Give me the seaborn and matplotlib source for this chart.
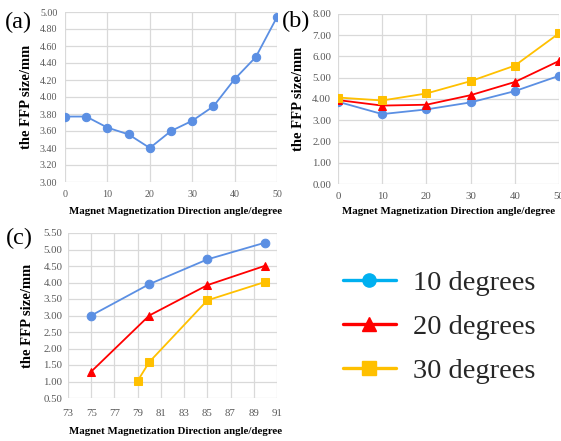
import numpy as np
import pandas as pd
import matplotlib
matplotlib.use("Agg")
import matplotlib.pyplot as plt
import seaborn as sns
from matplotlib.lines import Line2D

# ---- data ----
a_angle = [0, 5, 10, 15, 20, 25, 30, 35, 40, 45, 50]
a_size = [3.77, 3.77, 3.64, 3.56, 3.40, 3.60, 3.72, 3.89, 4.21, 4.47, 4.94]

b_angle = [0, 10, 20, 30, 40, 50]
b_10deg = [3.87, 3.29, 3.51, 3.84, 4.37, 5.09]
b_20deg = [3.95, 3.69, 3.73, 4.18, 4.80, 5.79]
b_30deg = [4.07, 3.93, 4.26, 4.84, 5.57, 7.09]

c_angle_10 = [75, 80, 85, 90]
c_10deg = [3.00, 3.95, 4.70, 5.21]
c_angle_20 = [75, 80, 85, 90]
c_20deg = [1.30, 3.00, 3.92, 4.51]
c_angle_30 = [79, 80, 85, 90]
c_30deg = [1.02, 1.59, 3.46, 4.02]

legend_labels = ["10 degrees", "20 degrees", "30 degrees"]
xlabel = "Magnet Magnetization Direction angle/degree"
ylabel = "the FFP size/mm"

# ---- style ----
sns.set_theme(style="white")
plt.rcParams['font.family'] = ['Liberation Serif', 'DejaVu Serif']

BLUE = "#5B8FE3"
RED = "#FF0000"
GOLD = "#FFC000"
LEG_BLUE = "#00B0F0"
TICKC = "#595959"
GRIDC = "#D9D9D9"

W, H = 561, 441
fig = plt.figure(figsize=(W / 100, H / 100), dpi=100)


def ax_at(l, r, t, b):
    return fig.add_axes([l / W, 1 - b / H, (r - l) / W, (b - t) / H])


def style(ax, xticks, yticks, xlim, ylim, fs, xpad, ypad):
    ax.set_xlim(*xlim)
    ax.set_ylim(*ylim)
    ax.set_xticks(xticks)
    ax.set_yticks(yticks)
    ax.set_yticklabels([f"{v:.2f}" for v in yticks])
    ax.set_xticklabels([str(v) for v in xticks])
    ax.grid(True, color=GRIDC, linewidth=0.9)
    ax.set_axisbelow(True)
    for s in ax.spines.values():
        s.set_visible(False)
    ax.tick_params(axis='both', length=0, labelsize=fs, colors=TICKC)
    ax.tick_params(axis='x', pad=xpad)
    ax.tick_params(axis='y', pad=ypad)
    ax.set_xlabel("")
    ax.set_ylabel("")


def line(ax, x, y, color, marker, ms=6.0):
    sns.lineplot(x=x, y=y, ax=ax, color=color, marker=marker, markersize=ms,
                 markeredgecolor=color, linewidth=1.3, legend=False)


# panel (a)
axa = ax_at(65, 277, 12, 182)
line(axa, a_angle, a_size, BLUE, 'o', 6.0)
style(axa, list(range(0, 51, 10)), [3.0 + 0.2 * i for i in range(11)],
      (0, 50), (3.0, 5.0), 7.2, 6, 5.5)

# panel (b)
axb = ax_at(338, 559, 14, 184)
line(axb, b_angle, b_10deg, BLUE, 'o', 6.0)
line(axb, b_angle, b_20deg, RED, '^', 6.0)
line(axb, b_angle, b_30deg, GOLD, 's', 6.0)
style(axb, list(range(0, 51, 10)), [float(i) for i in range(9)],
      (0, 50), (0, 8), 7.8, 6, 5)

# panel (c)
axc = ax_at(68, 277, 233, 398)
line(axc, c_angle_10, c_10deg, BLUE, 'o', 6.2)
line(axc, c_angle_20, c_20deg, RED, '^', 6.2)
line(axc, c_angle_30, c_30deg, GOLD, 's', 6.2)
style(axc, list(range(73, 92, 2)), [0.5 + 0.5 * i for i in range(11)],
      (73, 91), (0.5, 5.5), 7.8, 8, 4)

# axis labels (figure text for exact placement)
lab_kw = dict(fontweight='bold', fontsize=10.5, color='black', ha='center', va='center')
fig.text(27 / W, 1 - 97 / H, ylabel, rotation=90, **lab_kw)
fig.text(299 / W, 1 - 99 / H, ylabel, rotation=90, **lab_kw)
fig.text(28 / W, 1 - 316 / H, ylabel, rotation=90, **lab_kw)
xl_kw = dict(fontweight='bold', fontsize=7.8, color='black', ha='center', va='center')
fig.text(176 / W, 1 - 212 / H, xlabel, **xl_kw)
fig.text(449 / W, 1 - 212 / H, xlabel, **xl_kw)
fig.text(176 / W, 1 - 432 / H, xlabel, **xl_kw)

# panel letters
pl_kw = dict(fontsize=17.5, color='black', ha='left', va='center')
fig.text(5 / W, 1 - 22 / H, "(a)", **pl_kw)
fig.text(282 / W, 1 - 21 / H, "(b)", **pl_kw)
fig.text(6 / W, 1 - 238 / H, "(c)", **pl_kw)

# legend
handles = [
    Line2D([], [], color=LEG_BLUE, marker='o', markersize=9.5, linewidth=2.4),
    Line2D([], [], color=RED, marker='^', markersize=9.5, linewidth=2.4),
    Line2D([], [], color=GOLD, marker='s', markersize=9.5, linewidth=2.4),
]
fig.legend(handles, legend_labels, loc='center left',
           bbox_to_anchor=(343 / W, 1 - 327 / H), frameon=False,
           fontsize=20.5, handlelength=1.85, handletextpad=0.6, labelspacing=0.62,
           borderpad=0, borderaxespad=0)

fig.savefig("out.png", dpi=100)
